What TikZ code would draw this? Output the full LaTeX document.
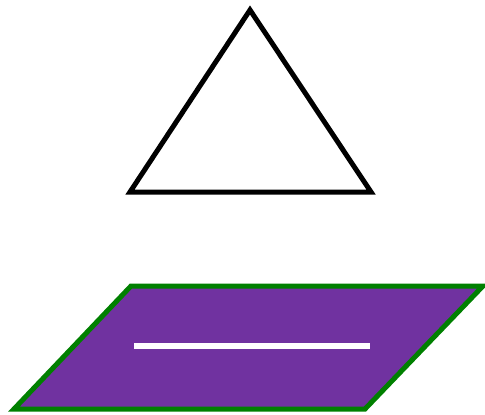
\documentclass[tikz,border=0pt]{standalone}
\usepackage{xcolor}
\usepackage{tikz}

\definecolor{plumfill}{RGB}{112,50,160}
\definecolor{edgegreen}{RGB}{0,128,0}

\begin{document}
\begin{tikzpicture}[
  x=1pt, y=-1pt,
  tri/.style={draw=black, fill=white, line width=5pt, line join=miter},
  plane/.style={draw=edgegreen, fill=plumfill, line width=5pt, line join=miter},
  bar/.style={draw=white, line width=5.5pt}
]
\useasboundingbox (0,0) rectangle (485,415);

% Triangle
\coordinate (apex) at (250,10);
\coordinate (bl) at (130,192);
\coordinate (br) at (371,192);
\draw [tri] (apex) -- (br) -- (bl) -- cycle;

% Parallelogram
\coordinate (ptl) at (131,286);
\coordinate (ptr) at (483,286);
\coordinate (pbr) at (365,409);
\coordinate (pbl) at (14,409);
\draw [plane] (ptl) -- (ptr) -- (pbr) -- (pbl) -- cycle;

% Bar
\coordinate (bara) at (134,346);
\coordinate (barb) at (370,346);
\draw [bar] (bara) -- (barb);

\end{tikzpicture}
\end{document}
